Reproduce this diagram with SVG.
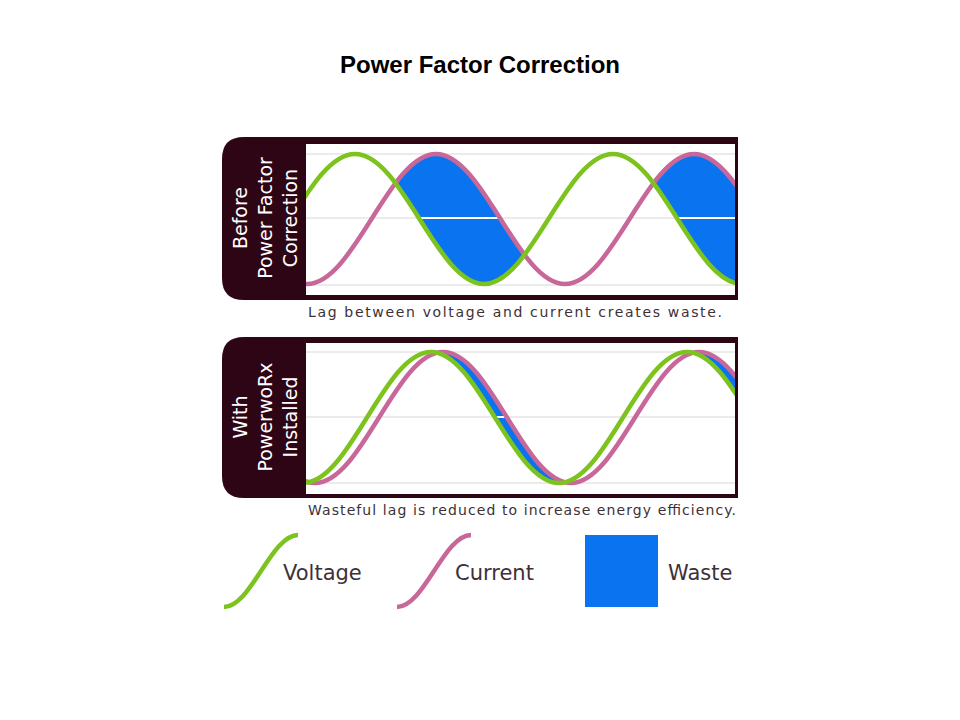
<svg xmlns="http://www.w3.org/2000/svg" width="960" height="720" viewBox="0 0 960 720">
<style>
.box{fill:#2e0514}
.plot{fill:#fff}
.grid{stroke:#e4e4e4;stroke-width:1.5}
.v{fill:none;stroke:#7dc31e;stroke-width:4.5}
.c{fill:none;stroke:#c8689a;stroke-width:4.5}
.lab{font-family:"DejaVu Sans",sans-serif;font-size:19px;fill:#fff;text-anchor:middle}
.cap{font-family:"DejaVu Sans",sans-serif;font-size:14px;fill:#3d3038}
.leg{font-family:"DejaVu Sans",sans-serif;font-size:21px;fill:#3d3038}
</style>
<defs>
<clipPath id="p1"><rect x="306" y="144" width="429" height="151"/></clipPath>
<clipPath id="p2"><rect x="306" y="343" width="429" height="151"/></clipPath>
<clipPath id="g1"><path d="M226,284 C273,284 308,154 355,154 C402,154 437,284 484,284 C531,284 566,154 613,154 C660,154 695,284 742,284 L742,140 L226,140 Z"/></clipPath>
<clipPath id="k1"><path d="M178,154 C225,154 260,284 307,284 C354,284 389,154 436,154 C483,154 518,284 565,284 C612,284 647,154 694,154 C741,154 776,284 823,284 L823,300 L178,300 Z"/></clipPath>
<clipPath id="g2"><path d="M175,352 C222,352 256,483 303,483 C350,483 384,352 431,352 C478,352 512,483 559,483 C606,483 640,352 687,352 C734,352 768,483 815,483 L815,340 L175,340 Z"/></clipPath>
<clipPath id="k2"><path d="M187,352 C234,352 268,483 315,483 C362,483 396,352 443,352 C490,352 524,483 571,483 C618,483 652,352 699,352 C746,352 780,483 827,483 L827,500 L187,500 Z"/></clipPath>
</defs>
<text x="480" y="73" font-family="Liberation Sans,Arial,sans-serif" font-size="24" font-weight="bold" text-anchor="middle">Power Factor Correction</text>

<g id="panel-before">
<path class="box" d="M244,137 H738 V300 H244 Q222,300 222,278 V159 Q222,137 244,137 Z"/>
<rect class="plot" x="306" y="144" width="429" height="151"/>
<g clip-path="url(#p1)">
<line class="grid" x1="306" y1="154" x2="735" y2="154"/>
<line class="grid" x1="306" y1="218" x2="735" y2="218"/>
<line class="grid" x1="306" y1="285" x2="735" y2="285"/>
<g clip-path="url(#g1)"><g clip-path="url(#k1)">
<rect x="306" y="144" width="429" height="151" fill="#0a74f0"/>
<line x1="306" y1="218" x2="735" y2="218" stroke="#fff" stroke-width="2"/>
</g></g>
<path class="c" d="M178,154 C225,154 260,284 307,284 C354,284 389,154 436,154 C483,154 518,284 565,284 C612,284 647,154 694,154 C741,154 776,284 823,284"/>
<path class="v" d="M226,284 C273,284 308,154 355,154 C402,154 437,284 484,284 C531,284 566,154 613,154 C660,154 695,284 742,284"/>
</g>
<g transform="translate(265,218) rotate(-90)">
<text class="lab" x="0" y="-18">Before</text>
<text class="lab" x="0" y="7">Power Factor</text>
<text class="lab" x="0" y="32">Correction</text>
</g>
<text class="cap" x="308" y="317" textLength="414">Lag between voltage and current creates waste.</text>
</g>

<g id="panel-after">
<path class="box" d="M244,337 H738 V498 H244 Q222,498 222,476 V359 Q222,337 244,337 Z"/>
<rect class="plot" x="306" y="343" width="429" height="151"/>
<g clip-path="url(#p2)">
<line class="grid" x1="306" y1="352" x2="735" y2="352"/>
<line class="grid" x1="306" y1="417" x2="735" y2="417"/>
<line class="grid" x1="306" y1="483" x2="735" y2="483"/>
<g clip-path="url(#g2)"><g clip-path="url(#k2)">
<rect x="306" y="343" width="429" height="151" fill="#0a74f0"/>
<line x1="306" y1="417" x2="735" y2="417" stroke="#fff" stroke-width="2"/>
</g></g>
<path class="c" d="M187,352 C234,352 268,483 315,483 C362,483 396,352 443,352 C490,352 524,483 571,483 C618,483 652,352 699,352 C746,352 780,483 827,483"/>
<path class="v" d="M175,352 C222,352 256,483 303,483 C350,483 384,352 431,352 C478,352 512,483 559,483 C606,483 640,352 687,352 C734,352 768,483 815,483"/>
</g>
<g transform="translate(265,417) rotate(-90)">
<text class="lab" x="0" y="-18">With</text>
<text class="lab" x="0" y="7">PowerwoRx</text>
<text class="lab" x="0" y="32">Installed</text>
</g>
<text class="cap" x="308" y="515" textLength="428">Wasteful lag is reduced to increase energy efficiency.</text>
</g>

<g id="legend">
<path class="v" d="M224,607 C251,607 271,535 298,535"/>
<text class="leg" x="283" y="580">Voltage</text>
<path class="c" d="M397,607 C424,607 444,535 471,535"/>
<text class="leg" x="455" y="580">Current</text>
<rect x="585" y="535" width="73" height="72" fill="#0a74f0"/>
<text class="leg" x="668" y="580">Waste</text>
</g>
</svg>
